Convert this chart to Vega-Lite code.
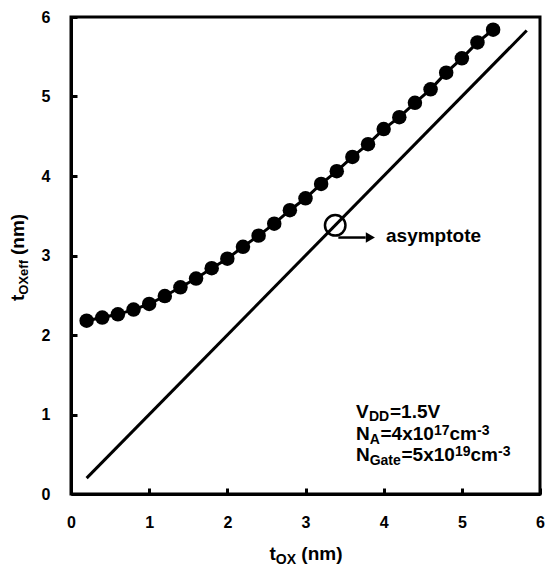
{
  "$schema": "https://vega.github.io/schema/vega-lite/v6.json",
  "width": 469,
  "height": 477,
  "autosize": {"type": "none"},
  "padding": {"left": 71, "top": 17, "right": 6, "bottom": 78},
  "background": "white",
  "datasets": {
    "points": [
      {"tox": 0.2, "toxeff": 2.18}, {"tox": 0.4, "toxeff": 2.22}, {"tox": 0.6, "toxeff": 2.26},
      {"tox": 0.8, "toxeff": 2.32}, {"tox": 1.0, "toxeff": 2.39}, {"tox": 1.2, "toxeff": 2.49},
      {"tox": 1.4, "toxeff": 2.60}, {"tox": 1.6, "toxeff": 2.71}, {"tox": 1.8, "toxeff": 2.84},
      {"tox": 2.0, "toxeff": 2.96}, {"tox": 2.2, "toxeff": 3.11}, {"tox": 2.4, "toxeff": 3.25},
      {"tox": 2.6, "toxeff": 3.40}, {"tox": 2.8, "toxeff": 3.57}, {"tox": 3.0, "toxeff": 3.72},
      {"tox": 3.2, "toxeff": 3.90}, {"tox": 3.4, "toxeff": 4.06}, {"tox": 3.6, "toxeff": 4.24},
      {"tox": 3.8, "toxeff": 4.40}, {"tox": 4.0, "toxeff": 4.59}, {"tox": 4.2, "toxeff": 4.74},
      {"tox": 4.4, "toxeff": 4.92}, {"tox": 4.6, "toxeff": 5.09}, {"tox": 4.8, "toxeff": 5.30},
      {"tox": 5.0, "toxeff": 5.48}, {"tox": 5.2, "toxeff": 5.68}, {"tox": 5.4, "toxeff": 5.84}
    ],
    "asym": [
      {"tox": 0.2, "toxeff": 0.2},
      {"tox": 5.83, "toxeff": 5.83}
    ]
  },
  "layer": [
    {
      "data": {"name": "points"},
      "mark": {"type": "line", "color": "black", "strokeWidth": 3},
      "encoding": {
        "x": {
          "field": "tox", "type": "quantitative",
          "scale": {"domain": [0, 6], "nice": false, "zero": false},
          "axis": {
            "title": null,
            "values": [0, 0.5, 1, 1.5, 2, 2.5, 3, 3.5, 4, 4.5, 5, 5.5, 6],
            "labelExpr": "datum.value % 1 === 0 ? format(datum.value, 'd') : ''",
            "labelPadding": 26
          }
        },
        "y": {
          "field": "toxeff", "type": "quantitative",
          "scale": {"domain": [0, 6], "nice": false, "zero": false},
          "axis": {
            "title": null,
            "values": [0, 0.5, 1, 1.5, 2, 2.5, 3, 3.5, 4, 4.5, 5, 5.5, 6],
            "labelExpr": "datum.value % 1 === 0 ? format(datum.value, 'd') : ''",
            "labelPadding": 27
          }
        }
      }
    },
    {
      "data": {"name": "asym"},
      "mark": {"type": "line", "color": "black", "strokeWidth": 3},
      "encoding": {
        "x": {"field": "tox", "type": "quantitative"},
        "y": {"field": "toxeff", "type": "quantitative"}
      }
    },
    {
      "data": {"name": "points"},
      "mark": {"type": "circle", "color": "black", "size": 210, "opacity": 1},
      "encoding": {
        "x": {"field": "tox", "type": "quantitative"},
        "y": {"field": "toxeff", "type": "quantitative"}
      }
    },
    {
      "data": {"values": [{}]},
      "layer": [
        {
          "mark": {"type": "point", "shape": "circle", "filled": false, "color": "black", "size": 420, "strokeWidth": 2.5, "opacity": 1},
          "encoding": {
            "x": {"datum": 3.38, "type": "quantitative"},
            "y": {"datum": 3.38, "type": "quantitative"}
          }
        },
        {
          "mark": {"type": "rule", "color": "black", "strokeWidth": 2.5},
          "encoding": {
            "x": {"datum": 3.42, "type": "quantitative"},
            "x2": {"datum": 3.77},
            "y": {"datum": 3.226, "type": "quantitative"}
          }
        },
        {
          "mark": {"type": "point", "shape": "triangle-right", "filled": true, "color": "black", "size": 110, "opacity": 1},
          "encoding": {
            "x": {"datum": 3.83, "type": "quantitative"},
            "y": {"datum": 3.226, "type": "quantitative"}
          }
        },
        {
          "mark": {"type": "text", "text": "asymptote", "fontSize": 19},
          "encoding": {
            "x": {"datum": 4.03, "type": "quantitative"},
            "y": {"datum": 3.17, "type": "quantitative"}
          }
        },
        {"mark": {"type": "text", "text": "V", "dx": 0},
         "encoding": {"x": {"datum": 3.646, "type": "quantitative"}, "y": {"datum": 0.956, "type": "quantitative"}}},
        {"mark": {"type": "text", "text": "DD", "dx": 13, "dy": 3.5, "fontSize": 14},
         "encoding": {"x": {"datum": 3.646, "type": "quantitative"}, "y": {"datum": 0.956, "type": "quantitative"}}},
        {"mark": {"type": "text", "text": "=1.5V", "dx": 34},
         "encoding": {"x": {"datum": 3.646, "type": "quantitative"}, "y": {"datum": 0.956, "type": "quantitative"}}},
        {"mark": {"type": "text", "text": "N", "dx": 0},
         "encoding": {"x": {"datum": 3.646, "type": "quantitative"}, "y": {"datum": 0.679, "type": "quantitative"}}},
        {"mark": {"type": "text", "text": "A", "dx": 13.7, "dy": 4, "fontSize": 14},
         "encoding": {"x": {"datum": 3.646, "type": "quantitative"}, "y": {"datum": 0.679, "type": "quantitative"}}},
        {"mark": {"type": "text", "text": "=4x10", "dx": 24.5},
         "encoding": {"x": {"datum": 3.646, "type": "quantitative"}, "y": {"datum": 0.679, "type": "quantitative"}}},
        {"mark": {"type": "text", "text": "17", "dx": 77.9, "dy": -5, "fontSize": 14},
         "encoding": {"x": {"datum": 3.646, "type": "quantitative"}, "y": {"datum": 0.679, "type": "quantitative"}}},
        {"mark": {"type": "text", "text": "cm", "dx": 93.5},
         "encoding": {"x": {"datum": 3.646, "type": "quantitative"}, "y": {"datum": 0.679, "type": "quantitative"}}},
        {"mark": {"type": "text", "text": "-3", "dx": 121, "dy": -5, "fontSize": 14},
         "encoding": {"x": {"datum": 3.646, "type": "quantitative"}, "y": {"datum": 0.679, "type": "quantitative"}}},
        {"mark": {"type": "text", "text": "N", "dx": 0},
         "encoding": {"x": {"datum": 3.646, "type": "quantitative"}, "y": {"datum": 0.409, "type": "quantitative"}}},
        {"mark": {"type": "text", "text": "Gate", "dx": 13.7, "dy": 4, "fontSize": 14},
         "encoding": {"x": {"datum": 3.646, "type": "quantitative"}, "y": {"datum": 0.409, "type": "quantitative"}}},
        {"mark": {"type": "text", "text": "=5x10", "dx": 45.5},
         "encoding": {"x": {"datum": 3.646, "type": "quantitative"}, "y": {"datum": 0.409, "type": "quantitative"}}},
        {"mark": {"type": "text", "text": "19", "dx": 98.9, "dy": -5, "fontSize": 14},
         "encoding": {"x": {"datum": 3.646, "type": "quantitative"}, "y": {"datum": 0.409, "type": "quantitative"}}},
        {"mark": {"type": "text", "text": "cm", "dx": 114.5},
         "encoding": {"x": {"datum": 3.646, "type": "quantitative"}, "y": {"datum": 0.409, "type": "quantitative"}}},
        {"mark": {"type": "text", "text": "-3", "dx": 142, "dy": -5, "fontSize": 14},
         "encoding": {"x": {"datum": 3.646, "type": "quantitative"}, "y": {"datum": 0.409, "type": "quantitative"}}},
        {"mark": {"type": "text", "text": "t", "dx": -36, "dy": 66, "fontSize": 19},
         "encoding": {"x": {"datum": 3, "type": "quantitative"}, "y": {"datum": 0, "type": "quantitative"}}},
        {"mark": {"type": "text", "text": "OX", "dx": -29.7, "dy": 70, "fontSize": 14},
         "encoding": {"x": {"datum": 3, "type": "quantitative"}, "y": {"datum": 0, "type": "quantitative"}}},
        {"mark": {"type": "text", "text": "(nm)", "dx": -4.2, "dy": 66, "fontSize": 19},
         "encoding": {"x": {"datum": 3, "type": "quantitative"}, "y": {"datum": 0, "type": "quantitative"}}},
        {"mark": {"type": "text", "text": "t", "angle": 270, "dx": -45.5, "dy": -47, "fontSize": 19},
         "encoding": {"x": {"datum": 0, "type": "quantitative"}, "y": {"datum": 3, "type": "quantitative"}}},
        {"mark": {"type": "text", "text": "OXeff", "angle": 270, "dx": -39.2, "dy": -43, "fontSize": 13},
         "encoding": {"x": {"datum": 0, "type": "quantitative"}, "y": {"datum": 3, "type": "quantitative"}}},
        {"mark": {"type": "text", "text": "(nm)", "angle": 270, "dx": 0.5, "dy": -47, "fontSize": 19},
         "encoding": {"x": {"datum": 0, "type": "quantitative"}, "y": {"datum": 3, "type": "quantitative"}}}
      ]
    }
  ],
  "config": {
    "view": {"stroke": "black", "strokeWidth": 3},
    "text": {"font": "Liberation Sans", "fontWeight": "bold", "fontSize": 19, "color": "black", "align": "left", "baseline": "alphabetic"},
    "axis": {
      "grid": false,
      "domainColor": "black",
      "domainWidth": 3,
      "tickColor": "black",
      "tickWidth": 3,
      "tickSize": -6,
      "labelFont": "Liberation Sans",
      "labelFontWeight": "bold",
      "labelFontSize": 16,
      "labelColor": "black",
      "labelFlush": false,
      "labelOverlap": false
    }
  }
}
